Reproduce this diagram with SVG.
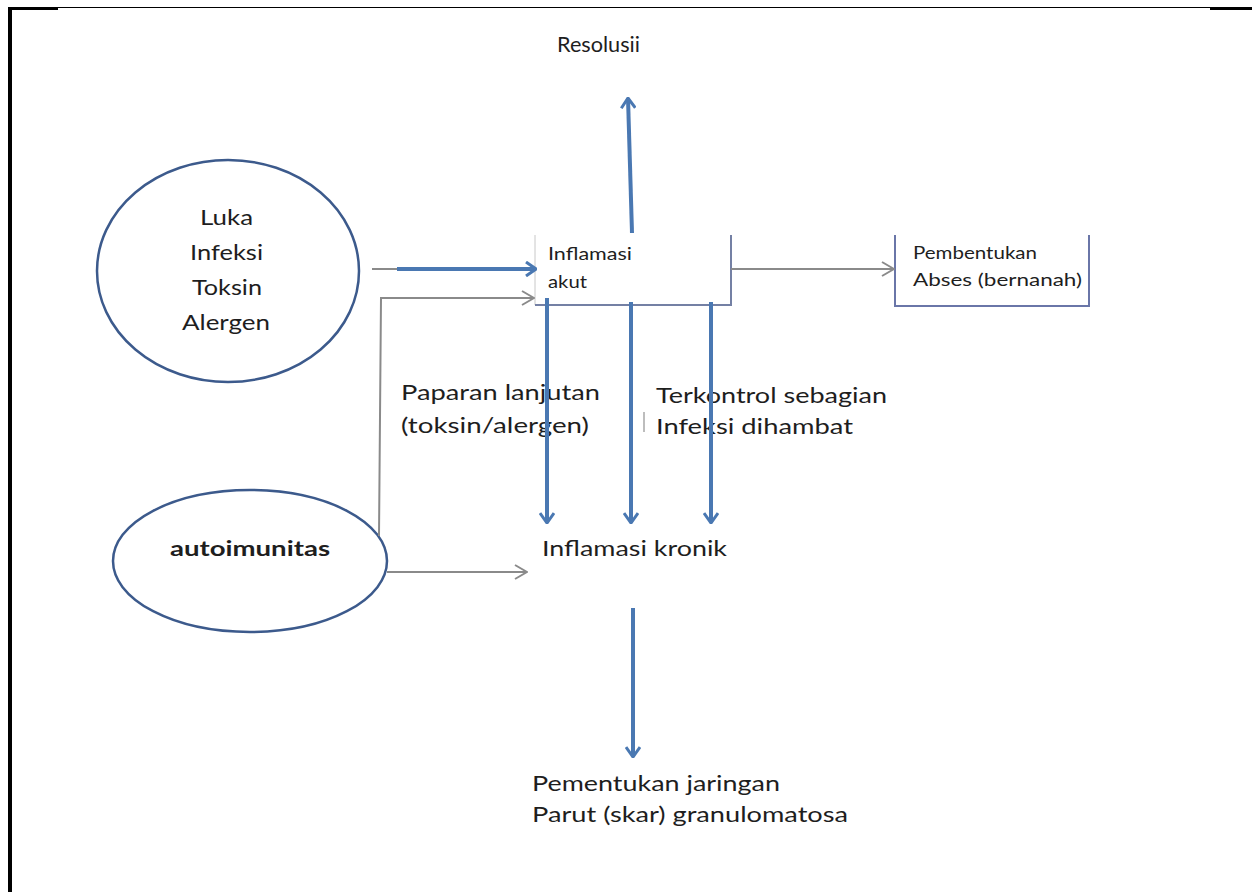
<svg xmlns="http://www.w3.org/2000/svg" width="1252" height="892" viewBox="0 0 1252 892">
<defs>
<style>
text{font-family:Lato,"Open Sans","Liberation Sans",sans-serif;fill:#1e1e1e}
.t22{font-size:22px}
.t21{font-size:21px}
.t17{font-size:17px}
.ell{fill:#fff;stroke:#3c5a8c;stroke-width:2.5}
.blue{stroke:#4a78b2;stroke-width:4;fill:none}
.gray{stroke:#8a8a8a;stroke-width:2;fill:none}
</style>
<marker id="ab" viewBox="0 0 12 16" refX="11" refY="8" markerWidth="12" markerHeight="16" markerUnits="userSpaceOnUse" orient="auto">
<path d="M1,1 L11,8 L1,15" fill="none" stroke="#4a78b2" stroke-width="3"/>
</marker>
<marker id="ag" viewBox="0 0 14 16" refX="13" refY="8" markerWidth="14" markerHeight="16" markerUnits="userSpaceOnUse" orient="auto">
<path d="M1,1 L13,8 L1,15" fill="none" stroke="#8a8a8a" stroke-width="2"/>
</marker>
</defs>
<rect width="1252" height="892" fill="#fff"/>
<g id="frame">
<rect x="8" y="7" width="50" height="3" fill="#000"/>
<rect x="8" y="7" width="4" height="885" fill="#000"/>
<line x1="58" y1="7.5" x2="1210" y2="7.5" stroke="#000" stroke-width="1"/>
<rect x="1210" y="7" width="42" height="3" fill="#000"/>
</g>
<g id="resolusi">
<text class="t21" x="557" y="52" textLength="83" lengthAdjust="spacingAndGlyphs">Resolusii</text>
</g>
<g id="penyebab">
<ellipse class="ell" cx="228" cy="271" rx="131" ry="111"/>
<text class="t22" x="200" y="225" textLength="53" lengthAdjust="spacingAndGlyphs">Luka</text>
<text class="t22" x="190" y="260" textLength="73" lengthAdjust="spacingAndGlyphs">Infeksi</text>
<text class="t22" x="192" y="295" textLength="70" lengthAdjust="spacingAndGlyphs">Toksin</text>
<text class="t22" x="182" y="330" textLength="88" lengthAdjust="spacingAndGlyphs">Alergen</text>
</g>
<g id="autoimunitas">
<ellipse class="ell" cx="250" cy="561" rx="137" ry="71"/>
<text class="t21" x="170" y="556" font-weight="bold" textLength="160" lengthAdjust="spacingAndGlyphs">autoimunitas</text>
</g>
<g id="inflamasi-akut">
<line x1="535" y1="235" x2="535" y2="305" stroke="#c8c8c8" stroke-width="1"/>
<polyline points="535,305 731,305 731,235" fill="none" stroke="#7480a4" stroke-width="2"/>
<text class="t17" x="548" y="260" textLength="84" lengthAdjust="spacingAndGlyphs">Inflamasi</text>
<text class="t17" x="548" y="288" textLength="39" lengthAdjust="spacingAndGlyphs">akut</text>
</g>
<g id="abses">
<polyline points="895,235 895,306 1089,306 1089,235" fill="none" stroke="#6a76a8" stroke-width="2"/>
<text class="t17" x="913" y="259" textLength="124" lengthAdjust="spacingAndGlyphs">Pembentukan</text>
<text class="t17" x="913" y="286" textLength="169" lengthAdjust="spacingAndGlyphs">Abses (bernanah)</text>
</g>
<g id="labels">
<text class="t22" x="401" y="400" textLength="199" lengthAdjust="spacingAndGlyphs">Paparan lanjutan</text>
<text class="t22" x="401" y="433" textLength="188" lengthAdjust="spacingAndGlyphs">(toksin/alergen)</text>
<text class="t22" x="656" y="403" textLength="231" lengthAdjust="spacingAndGlyphs">Terkontrol sebagian</text>
<text class="t22" x="656" y="434" textLength="197" lengthAdjust="spacingAndGlyphs">Infeksi dihambat</text>
<line x1="644" y1="412" x2="644" y2="432" stroke="#bdbdbd" stroke-width="2"/>
</g>
<g id="inflamasi-kronik">
<text class="t22" x="542" y="556" textLength="185" lengthAdjust="spacingAndGlyphs">Inflamasi kronik</text>
</g>
<g id="jaringan-parut">
<text class="t22" x="532" y="791" textLength="248" lengthAdjust="spacingAndGlyphs">Pementukan jaringan</text>
<text class="t22" x="532" y="822" textLength="316" lengthAdjust="spacingAndGlyphs">Parut (skar) granulomatosa</text>
</g>
<g id="connectors">
<line class="gray" x1="372" y1="269" x2="398" y2="269"/>
<line class="blue" x1="397" y1="269" x2="536" y2="269" marker-end="url(#ab)"/>
<polyline class="gray" points="379,536 381,298 534,298" marker-end="url(#ag)"/>
<line class="gray" x1="387" y1="572" x2="527" y2="572" marker-end="url(#ag)"/>
<line class="gray" x1="731" y1="269" x2="894" y2="269" marker-end="url(#ag)"/>
<line class="blue" x1="632" y1="233" x2="628" y2="98" marker-end="url(#ab)"/>
<line class="blue" x1="547" y1="298" x2="547" y2="523" marker-end="url(#ab)"/>
<line class="blue" x1="631" y1="302" x2="631" y2="523" marker-end="url(#ab)"/>
<line class="blue" x1="711" y1="302" x2="711" y2="523" marker-end="url(#ab)"/>
<line class="blue" x1="633" y1="608" x2="633" y2="757" marker-end="url(#ab)"/>
</g>
</svg>
